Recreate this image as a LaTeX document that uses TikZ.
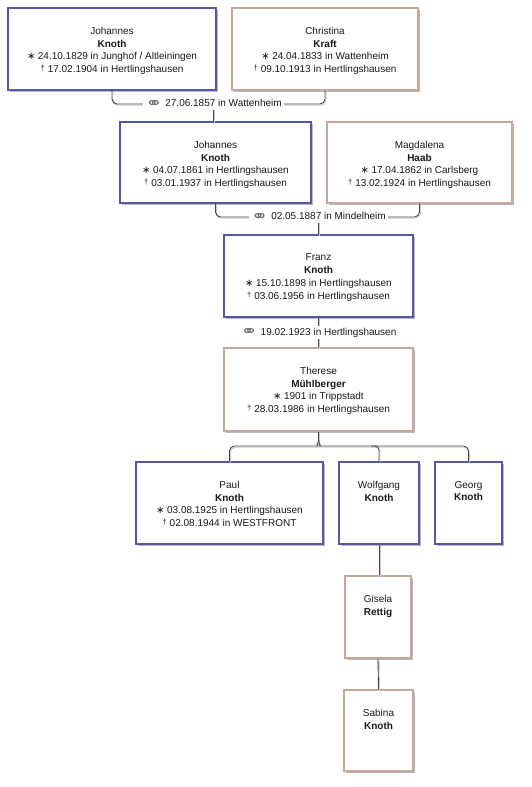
\documentclass[tikz,border=0pt]{standalone}
\usepackage{fontspec}
\usepackage{graphicx}
\setmainfont{Liberation Sans}
\newfontfamily\dejavu{DejaVu Sans}
\usetikzlibrary{shadows,calc}
\definecolor{malec}{RGB}{88,88,160}
\definecolor{femalec}{RGB}{196,168,158}
\definecolor{shadowc}{RGB}{185,185,185}
\definecolor{linec}{RGB}{70,70,70}
\definecolor{symc}{RGB}{110,110,110}
\definecolor{lineshc}{RGB}{200,200,200}
\definecolor{txtc}{RGB}{25,25,25}
\newcommand{\bsym}{{\dejavu ∗}\hspace{2.5pt}}
\newcommand{\dsym}{{\fontsize{7.5}{7.5}\selectfont\raisebox{2pt}{†}}\hspace{3pt}}
\newcommand{\msym}{{\fontsize{12}{12}\selectfont\dejavu\color{symc}\raisebox{-1.5pt}{\scalebox{1.7}[1.25]{⚭}}}\hspace{3pt}}
\begin{document}
\begin{tikzpicture}[x=1pt,y=-1pt,
  box/.style={draw, line width=1.2pt, fill=white, inner sep=0pt,
    drop shadow={shadow xshift=2pt, shadow yshift=-2pt, fill=shadowc, opacity=1}},
  malebox/.style={box, draw=malec},
  femalebox/.style={box, draw=femalec},
  btext/.style={anchor=north, align=center, inner sep=0pt, text=txtc,
    font=\fontsize{10}{12.8}\selectfont},
  mlabel/.style={fill=white, inner sep=2pt, text=txtc, font=\fontsize{10}{12}\selectfont},
  con/.style={draw=linec, line width=0.9pt,
    preaction={draw=lineshc, line width=0.9pt, transform canvas={shift={(1pt,-1.2pt)}}}}
]
\useasboundingbox[fill=white] (0,0) rectangle (531,787);

% boxes
\node[malebox, minimum width=208pt, minimum height=82pt] (A) at (112,49) {};
\node[femalebox, minimum width=186pt, minimum height=82pt] (B) at (325,49) {};
\node[malebox, minimum width=191pt, minimum height=81pt] (C) at (215.5,162.5) {};
\node[femalebox, minimum width=185pt, minimum height=81pt] (D) at (419.5,162.5) {};
\node[malebox, minimum width=189pt, minimum height=82pt] (E) at (318.5,276) {};
\node[femalebox, minimum width=189pt, minimum height=83pt] (F) at (318.5,389.5) {};
\node[malebox, minimum width=187pt, minimum height=82pt] (G) at (229.5,503) {};
\node[malebox, minimum width=80pt, minimum height=82pt] (H) at (379,503) {};
\node[malebox, minimum width=67pt, minimum height=82pt] (I) at (468.5,503) {};
\node[femalebox, minimum width=66pt, minimum height=82pt] (J) at (378,617) {};
\node[femalebox, minimum width=69pt, minimum height=81pt] (K) at (378.5,730.5) {};

% box texts
\node[btext] (At) at ([yshift=-19.5pt]A.north) {Johannes\\\textbf{Knoth}\\\bsym 24.10.1829 in Junghof / Altleiningen\\\dsym 17.02.1904 in Hertlingshausen};
\node[btext] (Bt) at ([yshift=-19.5pt]B.north) {Christina\\\textbf{Kraft}\\\bsym 24.04.1833 in Wattenheim\\\dsym 09.10.1913 in Hertlingshausen};
\node[btext] (Ct) at ([yshift=-19.5pt]C.north) {Johannes\\\textbf{Knoth}\\\bsym 04.07.1861 in Hertlingshausen\\\dsym 03.01.1937 in Hertlingshausen};
\node[btext] (Dt) at ([yshift=-19.5pt]D.north) {Magdalena\\\textbf{Haab}\\\bsym 17.04.1862 in Carlsberg\\\dsym 13.02.1924 in Hertlingshausen};
\node[btext] (Et) at ([yshift=-19.5pt]E.north) {Franz\\\textbf{Knoth}\\\bsym 15.10.1898 in Hertlingshausen\\\dsym 03.06.1956 in Hertlingshausen};
\node[btext] (Ft) at ([yshift=-19.5pt]F.north) {Therese\\\textbf{Mühlberger}\\\bsym 1901 in Trippstadt\\\dsym 28.03.1986 in Hertlingshausen};
\node[btext] (Gt) at ([yshift=-19.5pt]G.north) {Paul\\\textbf{Knoth}\\\bsym 03.08.1925 in Hertlingshausen\\\dsym 02.08.1944 in WESTFRONT};
\node[btext] (Ht) at ([yshift=-19.5pt]H.north) {Wolfgang\\\textbf{Knoth}};
\node[btext] (It) at ([yshift=-19.5pt]I.north) {Georg\\\textbf{Knoth}};
\node[btext] (Jt) at ([yshift=-19.5pt]J.north) {Gisela\\\textbf{Rettig}};
\node[btext] (Kt) at ([yshift=-19.5pt]K.north) {Sabina\\\textbf{Knoth}};

% marriage 1
\coordinate (m1) at (213.5,104);
\draw[con, rounded corners=5] (A.south) |- (m1) -| (B.south);
\draw[con] (m1) -- (m1 |- C.north);
\node[mlabel] (l1) at (m1) {\msym 27.06.1857 in Wattenheim};

% marriage 2
\coordinate (m2) at (318.5,217);
\draw[con, rounded corners=5] (C.south) |- (m2) -| (D.south);
\draw[con] (m2) -- (E.north);
\node[mlabel] (l2) at (m2) {\msym 02.05.1887 in Mindelheim};

% marriage 3
\draw[con] (E.south) -- (F.north);
\node[mlabel] (l3) at ($(E.south)!0.5!(F.north)$) {\msym 19.02.1923 in Hertlingshausen};

% children
\coordinate (jn) at (318.5,440);
\coordinate (hb) at (318.5,446);
\draw[con] (F.south) -- (jn);
\draw[con, rounded corners=5] (jn) to[out=-90,in=0] ($(hb)+(-6,0)$) -- (G.north |- hb) -- (G.north);
\draw[con, rounded corners=5] (jn) to[out=-90,in=180] ($(hb)+(6,0)$) -- (I.north |- hb) -- (I.north);
\draw[con, rounded corners=4] ($(H.north |- hb)+(-8,0)$) -- (H.north |- hb) -- (H.north);

% descendants
\draw[con] (H.south) -- (H.south |- J.north);
\draw[con] (J.south) -- (K.north);
\end{tikzpicture}
\end{document}
